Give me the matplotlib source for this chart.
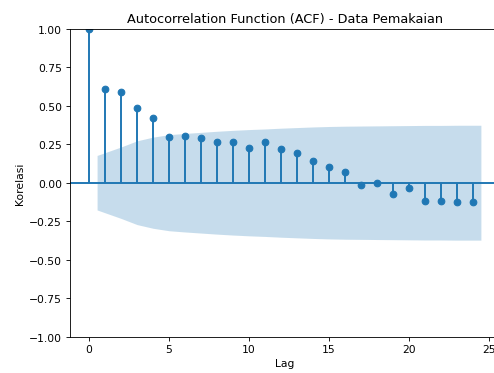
import numpy as np
import matplotlib
matplotlib.use('Agg')
import matplotlib.pyplot as plt

# ACF values, lags 0..24
lags = np.arange(25)
acf_vals = [1.0, 0.61, 0.59, 0.485, 0.42, 0.295, 0.305, 0.29, 0.265, 0.265,
            0.227, 0.264, 0.222, 0.19, 0.138, 0.101, 0.071, -0.013, -0.003,
            -0.071, -0.033, -0.117, -0.117, -0.123, -0.128]

# 95% confidence band half-width for lags 1..24
band_lags = [0.5, 2, 3, 4, 5, 6, 7, 8, 9, 10, 11, 12, 13, 14, 15, 16,
             17, 18, 19, 20, 21, 22, 23, 24.5]
band_half = [0.177, 0.232, 0.272, 0.296, 0.312, 0.320, 0.327, 0.334, 0.340,
             0.345, 0.349, 0.354, 0.358, 0.362, 0.365, 0.367, 0.368, 0.369,
             0.370, 0.371, 0.372, 0.372, 0.373, 0.373]

dpi = 77.2
fig = plt.figure(figsize=(494 / dpi, 374 / dpi), dpi=dpi)
ax = fig.add_axes([69.5 / 494, 36.3 / 374, 431 / 494, 308 / 374])

ax.vlines(lags, 0, acf_vals, color='C0', linewidth=1.8)
ax.plot(lags, acf_vals, marker='o', markersize=6.2, linestyle='None', color='C0')
ax.axhline(0, color='C0', linewidth=1.8)
ax.fill_between(band_lags, -np.array(band_half), band_half,
                color='C0', alpha=0.25, linewidth=0)

ax.set_xlim(-1.225, 25.725)
ax.set_ylim(-1, 1)
ax.set_title('Autocorrelation Function (ACF) - Data Pemakaian')
ax.set_xlabel('Lag')
ax.set_ylabel('Korelasi')

fig.savefig('out.png', dpi=dpi)
